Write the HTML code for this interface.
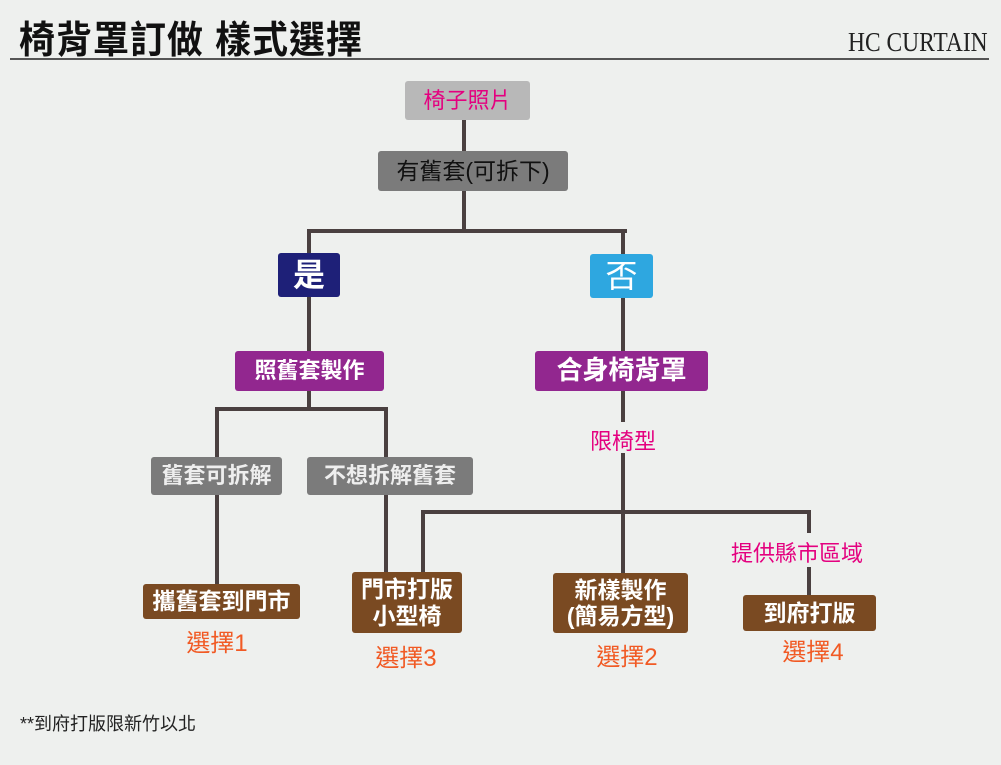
<!DOCTYPE html>
<html><head><meta charset="utf-8"><style>
body{margin:0;width:1001px;height:765px;background:#eef0ee;position:relative;overflow:hidden;font-family:"Liberation Sans","Noto Sans CJK TC",sans-serif}
.a{position:absolute;white-space:nowrap}
.l{position:absolute;background:#4a4040}
.b{position:absolute;display:flex;align-items:center;justify-content:center;border-radius:3px;text-align:center;line-height:1.15;white-space:nowrap}
.t{position:absolute;text-align:center;white-space:nowrap}
</style></head><body>
<div class="a" style="left:19px;top:10px;font-size:36px;font-weight:bold;color:#111;letter-spacing:1px;transform:scaleY(1.05);transform-origin:top">椅背罩訂做 樣式選擇</div>
<div class="a" style="left:848px;top:27px;font-family:'Liberation Serif',serif;font-size:27px;color:#222;transform:scaleX(0.87);transform-origin:left">HC CURTAIN</div>
<div class="a" style="left:10px;top:58px;width:979px;height:2px;background:#555"></div>

<div class="l" style="left:462px;top:120px;width:4px;height:111px"></div>
<div class="l" style="left:307px;top:229px;width:320px;height:4px"></div>
<div class="l" style="left:307px;top:229px;width:4px;height:122px"></div>
<div class="l" style="left:621px;top:229px;width:4px;height:122px"></div>
<div class="l" style="left:307px;top:391px;width:4px;height:20px"></div>
<div class="l" style="left:215px;top:407px;width:173px;height:4px"></div>
<div class="l" style="left:215px;top:407px;width:4px;height:177px"></div>
<div class="l" style="left:384px;top:407px;width:4px;height:165px"></div>
<div class="l" style="left:621px;top:391px;width:4px;height:31px"></div>
<div class="l" style="left:621px;top:453px;width:4px;height:120px"></div>
<div class="l" style="left:421px;top:510px;width:390px;height:4px"></div>
<div class="l" style="left:421px;top:510px;width:4px;height:62px"></div>
<div class="l" style="left:807px;top:510px;width:4px;height:23px"></div>
<div class="l" style="left:807px;top:567px;width:4px;height:28px"></div>

<div class="b" style="left:405px;top:81px;width:125px;height:39px;background:#b8b8b8;color:#e4007f;font-size:22px">椅子照片</div>
<div class="b" style="left:378px;top:151px;width:190px;height:40px;background:#7b7b7b;color:#111;font-size:23px">有舊套(可拆下)</div>
<div class="b" style="left:278px;top:253px;width:62px;height:44px;background:#1e2078;color:#fff;font-size:32px;font-weight:bold">是</div>
<div class="b" style="left:590px;top:254px;width:63px;height:44px;background:#2ea7e0;color:#fff;font-size:32px">否</div>
<div class="b" style="left:235px;top:351px;width:149px;height:40px;background:#92278f;color:#fff;font-size:22px;font-weight:bold">照舊套製作</div>
<div class="b" style="left:535px;top:351px;width:173px;height:40px;background:#92278f;color:#fff;font-size:26px;font-weight:bold">合身椅背罩</div>
<div class="b" style="left:151px;top:457px;width:131px;height:38px;background:#7b7b7b;color:#eee;font-size:22px;font-weight:bold">舊套可拆解</div>
<div class="b" style="left:307px;top:457px;width:166px;height:38px;background:#7b7b7b;color:#eee;font-size:22px;font-weight:bold">不想拆解舊套</div>
<div class="b" style="left:143px;top:584px;width:157px;height:35px;background:#7a4a22;color:#fff;font-size:23px;font-weight:bold">攜舊套到門市</div>
<div class="b" style="left:352px;top:572px;width:110px;height:61px;background:#7a4a22;color:#fff;font-size:23px;font-weight:bold">門市打版<br>小型椅</div>
<div class="b" style="left:553px;top:573px;width:135px;height:60px;background:#7a4a22;color:#fff;font-size:23px;font-weight:bold">新樣製作<br>(簡易方型)</div>
<div class="b" style="left:743px;top:595px;width:133px;height:36px;background:#7a4a22;color:#fff;font-size:23px;font-weight:bold">到府打版</div>

<div class="t" style="left:573px;top:424px;width:100px;color:#e4007f;font-size:22px">限椅型</div>
<div class="t" style="left:707px;top:536px;width:180px;color:#e4007f;font-size:22px">提供縣市區域</div>
<div class="t" style="left:167px;top:623px;width:100px;color:#f15a24;font-size:24px">選擇1</div>
<div class="t" style="left:356px;top:638px;width:100px;color:#f15a24;font-size:24px">選擇3</div>
<div class="t" style="left:577px;top:637px;width:100px;color:#f15a24;font-size:24px">選擇2</div>
<div class="t" style="left:763px;top:632px;width:100px;color:#f15a24;font-size:24px">選擇4</div>
<div class="a" style="left:20px;top:710px;font-size:18px;color:#222">**到府打版限新竹以北</div>
</body></html>
